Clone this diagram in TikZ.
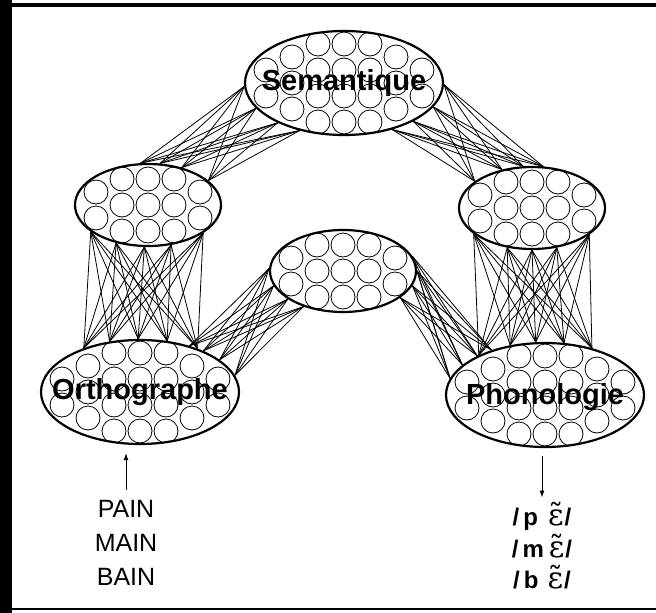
\documentclass[tikz,border=0pt]{standalone}
\usepackage{fontspec}
\setmainfont{Liberation Sans}
\newfontfamily\ipafont{DejaVu Serif}
\usetikzlibrary{arrows.meta,shapes.geometric}
\tikzset{
  pool/.style={ellipse,draw,line width=2.2pt,inner sep=0pt},
  bigpool/.style={pool,minimum width=198pt,minimum height=104pt},
  smallpool/.style={pool,minimum width=146pt,minimum height=82pt},
  poolname/.style={font=\fontsize{29}{29}\selectfont\bfseries,inner sep=0pt},
  unit/.style={line width=0.8pt},
  wire/.style={line width=0.8pt},
  ar/.style={-{Latex[length=7pt,width=5pt]},line width=0.9pt},
  word/.style={font=\fontsize{25}{25}\selectfont,inner sep=0pt,anchor=base},
  sound/.style={font=\fontsize{24}{24}\selectfont\bfseries,inner sep=0pt,anchor=base}
}
\newcommand\nasal{{\ipafont\mdseries\fontsize{30}{30}\selectfont ɛ̃}}

\begin{document}
\begin{tikzpicture}[x=1pt,y=-1pt]
\useasboundingbox (0,0) rectangle (656,613);
% frame
\fill (0,0) rectangle (12,613);
\draw[line width=4.5pt] (0,5) -- (656,5);
\draw[line width=2pt] (0,609) -- (656,609);
% units inside the pools
\foreach \cx/\cy in {344/83,140/392,545/395}{
 \begin{scope}[shift={(\cx,\cy)}]
 \clip (0,0) ellipse [x radius=99pt,y radius=52pt];
 \foreach \c/\n in {-3/2,-2/3,-1/4,0/4,1/4,2/3,3/2}
  \foreach \k in {1,...,\n}
   \draw[unit] ({\c*26},{(\k-(\n+1)/2)*26}) circle (12pt);
 \end{scope}}
\foreach \cx/\cy in {148/205,343/271,532/208}{
 \begin{scope}[shift={(\cx,\cy)}]
 \clip (0,0) ellipse [x radius=73pt,y radius=41pt];
 \foreach \c/\n in {-2/2,-1/3,0/3,1/3,2/2}
  \foreach \k in {1,...,\n}
   \draw[unit] ({\c*26},{(\k-(\n+1)/2)*26}) circle (12pt);
 \end{scope}}
% pools
\node[bigpool] (sem) at (344,83) {};
\node[bigpool] (orth) at (140,392) {};
\node[bigpool] (phon) at (545,395) {};
\node[smallpool] (lh) at (148,205) {};
\node[smallpool] (ch) at (343,271) {};
\node[smallpool] (rh) at (532,208) {};
\node[poolname] (semname) at (sem) {Semantique};
\node[poolname] (orthname) at (orth) {Orthographe};
\node[poolname] (phonname) at ([yshift=-2pt]phon) {Phonologie};
% connections
\foreach \a in {182,196,211,227} \foreach \b in {22,48,74,100} \draw[wire] (sem.\a) -- (lh.\b);
\foreach \a in {316,331,345,359} \foreach \b in {75,102,128,155} \draw[wire] (sem.\a) -- (rh.\b);
\foreach \a in {205,230,265,300,333} \foreach \b in {37,62,92,121,142} \draw[wire] (lh.\a) -- (orth.\b);
\foreach \a in {204,238,270,302,335} \foreach \b in {45,70,100,125,149} \draw[wire] (rh.\a) -- (phon.\b);
\foreach \a in {10,22,33,43} \foreach \b in {178,192,207,222} \draw[wire] (orth.\a) -- (ch.\b);
\foreach \a in {335,348,0,12} \foreach \b in {140,150,160,170} \draw[wire] (ch.\a) -- (phon.\b);
% input and output
\node[word] (w1) at (126,517) {PAIN};
\node[word] (w2) at (126,551) {MAIN};
\node[word] (w3) at (126,585) {BAIN};
\node[sound] (s1) at (542,525) {/\hspace{4pt}p\hspace{10pt}\nasal\hspace{1pt}/};
\node[sound] (s2) at (542,557) {/\hspace{4pt}m\hspace{5pt}\nasal\hspace{1pt}/};
\node[sound] (s3) at (542,588) {/\hspace{4pt}b\hspace{9pt}\nasal\hspace{1pt}/};
\draw[ar,shorten <=10pt,shorten >=8pt] (w1.north) -- (w1.north |- orth.south);
\draw[ar,shorten <=8pt,shorten >=4pt] (s1.north |- phon.south) -- (s1.north);
\end{tikzpicture}
\end{document}
